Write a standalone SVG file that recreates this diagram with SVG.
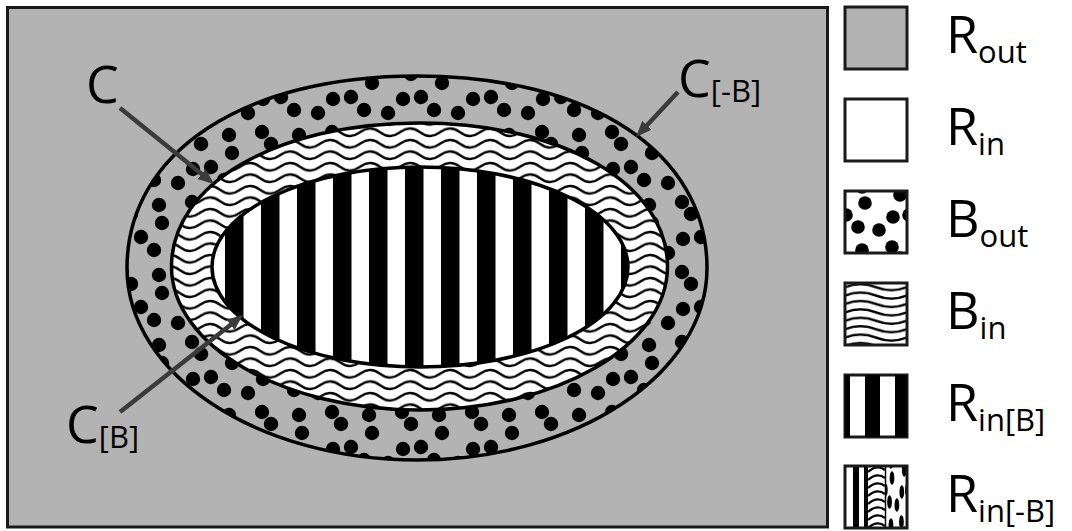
<svg xmlns="http://www.w3.org/2000/svg" width="1072" height="531" viewBox="0 0 1072 531">
<defs>
<style>
.lbl{font-family:"Open Sans","Noto Sans","Liberation Sans",sans-serif;font-size:52px;fill:#000}
.sub{font-size:31px}
.box{stroke:#1a1a1a;stroke-width:3}
.shape{stroke:#000;stroke-width:3.5}
.arrow{stroke:#3b3b3b;stroke-width:4.5;fill:none;marker-end:url(#ah)}
.wv{fill:none;stroke:#000;stroke-width:2.3}
</style>
<marker id="ah" viewBox="0 0 16 13" refX="4" refY="6.5" markerWidth="16" markerHeight="13" markerUnits="userSpaceOnUse" orient="auto"><path d="M0,0 L16,6.5 L0,13 Z" fill="#3b3b3b"/></marker>
<g id="dotset" fill="#000">
<circle cx="20" cy="12" r="6.8"/><circle cx="55" cy="4" r="6.8"/><circle cx="55" cy="67" r="6.8"/>
<circle cx="48" cy="26" r="6.8"/><circle cx="13" cy="36" r="6.8"/><circle cx="34" cy="39" r="6.8"/>
<circle cx="1" cy="24" r="6.8"/><circle cx="64" cy="24" r="6.8"/>
<circle cx="17" cy="59" r="6.8"/><circle cx="17" cy="-4" r="6.8"/>
<circle cx="47" cy="56" r="6.8"/><circle cx="47" cy="-7" r="6.8"/>
</g>
<g id="ringdots" fill="#000">
<circle cx="22" cy="13" r="7.2"/><circle cx="61" cy="4" r="7.2"/><circle cx="61" cy="74" r="7.2"/>
<circle cx="53" cy="29" r="7.2"/><circle cx="14" cy="40" r="7.2"/><circle cx="38" cy="43" r="7.2"/>
<circle cx="1" cy="27" r="7.2"/><circle cx="71" cy="27" r="7.2"/>
<circle cx="19" cy="65" r="7.2"/><circle cx="19" cy="-5" r="7.2"/>
<circle cx="52" cy="62" r="7.2"/><circle cx="52" cy="-8" r="7.2"/>
</g>
<pattern id="dotsG" patternUnits="userSpaceOnUse" x="0" y="0" width="70" height="70"><rect width="70" height="70" fill="#b3b3b3"/><use href="#ringdots"/></pattern>
<pattern id="waves" patternUnits="userSpaceOnUse" x="0" y="0" width="40" height="11.5"><rect width="40" height="11.5" fill="#fff"/><path class="wv" d="M-20,5.75 Q-10,13.25 0,5.75 T20,5.75 T40,5.75 T60,5.75"/></pattern>
<pattern id="stripes" patternUnits="userSpaceOnUse" x="225" y="0" width="36" height="10"><rect width="36" height="10" fill="#fff"/><rect width="18.5" height="10" fill="#000"/></pattern>
<pattern id="legWaves" patternUnits="userSpaceOnUse" x="845" y="283" width="62" height="8.4"><rect width="62" height="8.4" fill="#fff"/><path class="wv" d="M-31,4.2 Q-15.5,10.2 0,4.2 T31,4.2 T62,4.2 T93,4.2"/></pattern>
<clipPath id="cpBout"><rect x="845" y="191" width="62" height="62"/></clipPath>
<clipPath id="cpRBd"><rect x="885" y="466" width="22" height="62"/></clipPath>
</defs>

<g id="scene">
<rect x="7.5" y="7.5" width="820" height="519.5" fill="#b3b3b3" stroke="#1a1a1a" stroke-width="3"/>
<path id="C-neg-B" class="shape" fill="url(#dotsG)" d="M127,268 C127,152.8 243,76 417,76 C591,76 707,152.8 707,268 C707,374 577.2,460 417,460 C256.8,460 127,374 127,268 Z"/>
<path id="C" class="shape" fill="url(#waves)" d="M171.5,266.5 C171.5,184 276.9,123 419.5,123 C562.1,123 667.5,184 667.5,266.5 C667.5,345.75 556.5,410 419.5,410 C282.5,410 171.5,345.75 171.5,266.5 Z"/>
<ellipse id="C-B" class="shape" fill="url(#stripes)" cx="420" cy="267" rx="208" ry="100"/>
</g>

<g id="connectors">
<line class="arrow" x1="120" y1="108" x2="204.7" y2="176.5"/>
<line class="arrow" x1="678" y1="92" x2="644.2" y2="128.2"/>
<line class="arrow" x1="120" y1="412" x2="233.6" y2="322.4"/>
</g>

<g id="label-C"><text class="lbl" x="86" y="103">C</text></g>
<g id="label-C-neg-B"><text class="lbl" x="678" y="97">C<tspan class="sub" dy="5">[-B]</tspan></text></g>
<g id="label-C-B"><text class="lbl" x="66" y="443">C<tspan class="sub" dy="5">[B]</tspan></text></g>

<g id="legend-Rout"><rect class="box" x="845" y="7" width="62" height="62" fill="#b3b3b3"/><text class="lbl" x="946" y="53">R<tspan class="sub" dy="10">out</tspan></text></g>
<g id="legend-Rin"><rect class="box" x="845" y="99" width="62" height="62" fill="#fff"/><text class="lbl" x="946" y="145">R<tspan class="sub" dy="10">in</tspan></text></g>
<g id="legend-Bout"><rect x="845" y="191" width="62" height="62" fill="#fff"/><g clip-path="url(#cpBout)"><use href="#dotset" transform="translate(845,191)"/></g><rect class="box" x="845" y="191" width="62" height="62" fill="none"/><text class="lbl" x="946" y="237">B<tspan class="sub" dy="10">out</tspan></text></g>
<g id="legend-Bin"><rect class="box" x="845" y="283" width="62" height="62" fill="url(#legWaves)"/><text class="lbl" x="946" y="329">B<tspan class="sub" dy="10">in</tspan></text></g>
<g id="legend-RinB"><rect class="box" x="845" y="375" width="62" height="62" fill="#fff"/><rect x="845" y="375" width="5" height="62" fill="#000"/><rect x="865" y="375" width="15" height="62" fill="#000"/><rect x="895" y="375" width="12" height="62" fill="#000"/><text class="lbl" x="946" y="421">R<tspan class="sub" dy="10">in[B]</tspan></text></g>
<g id="legend-RinNegB"><rect x="845" y="466" width="62" height="62" fill="#fff"/>
<rect x="853" y="466" width="6" height="62" fill="#000"/><rect x="864" y="466" width="4" height="62" fill="#000"/>
<g class="wv">
<path d="M868,472 Q877,464 885,470"/><path d="M868,480 Q877,472 885,478"/><path d="M868,488 Q877,480 885,486"/><path d="M868,496 Q877,488 885,494"/><path d="M868,504 Q877,496 885,502"/><path d="M868,512 Q877,504 885,510"/><path d="M868,520 Q877,512 885,518"/><path d="M868,528 Q877,520 885,526"/>
</g>
<line x1="885.5" y1="466" x2="885.5" y2="528" stroke="#000" stroke-width="1.5"/>
<g clip-path="url(#cpRBd)"><use href="#dotset" transform="translate(885,466) scale(0.35,1)"/></g>
<rect class="box" x="845" y="466" width="62" height="62" fill="none"/>
<text class="lbl" x="946" y="512">R<tspan class="sub" dy="10">in[-B]</tspan></text></g>
</svg>
